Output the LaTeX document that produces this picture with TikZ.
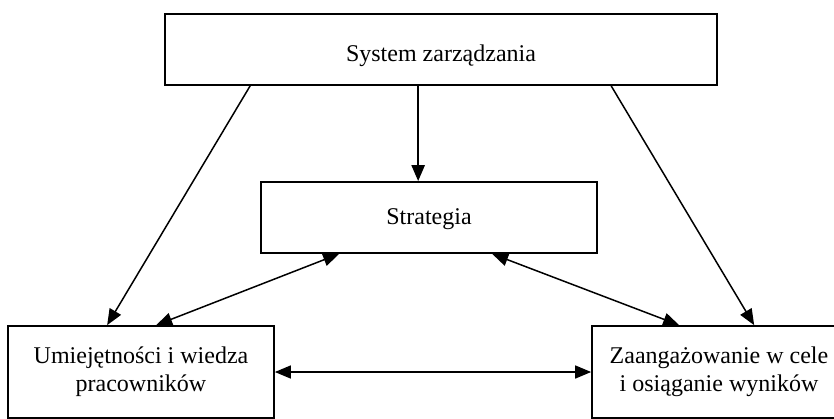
\documentclass[tikz,border=0pt]{standalone}
\usepackage{fontspec}
\setmainfont{Liberation Serif}
\usetikzlibrary{arrows.meta,calc}
\begin{document}
\begin{tikzpicture}[x=0.5pt,y=-0.5pt,>={Triangle[length=8pt,width=6.5pt]},line width=0.75pt]
		\tikzstyle{box}=[draw,line width=0.85pt,align=center,inner sep=0pt,font=\fontsize{12}{13.8}\selectfont]
		\useasboundingbox (0,0) rectangle (834,418);

		\node[box,minimum width=276pt,minimum height=35.5pt,text height=15pt](sys) at (441,49.5){System zarządzania};
		\node[box,minimum width=168pt,minimum height=35.5pt,text height=10pt](strat) at (429,217.5){Strategia};
		\node[box,minimum width=133pt,minimum height=46pt](skills) at (141,372){Umiejętności i wiedza\\pracowników};
		\node[box,minimum width=127pt,minimum height=46pt](engage) at (719,372){Zaangażowanie w cele\\i osiąganie wyników};

		\draw[->] ($(sys.south west)+(86,0)$) -- ($(skills.north west)+(100,0)$);
		\draw[->] ($(sys.south west)+(447,0)$) -- ($(engage.north west)+(163,0)$);
		\draw[->,line width=1.2pt] ($(sys.south west)+(254,0)$) -- ($(strat.north west)+(158,0)$);
		\draw[<->] ($(strat.south west)+(79,0)$) -- ($(skills.north west)+(149,0)$);
		\draw[<->] ($(strat.south west)+(232,0)$) -- ($(engage.north west)+(88,0)$);
		\draw[<->] (skills.east) -- (engage.west);
	\end{tikzpicture}
\end{document}
